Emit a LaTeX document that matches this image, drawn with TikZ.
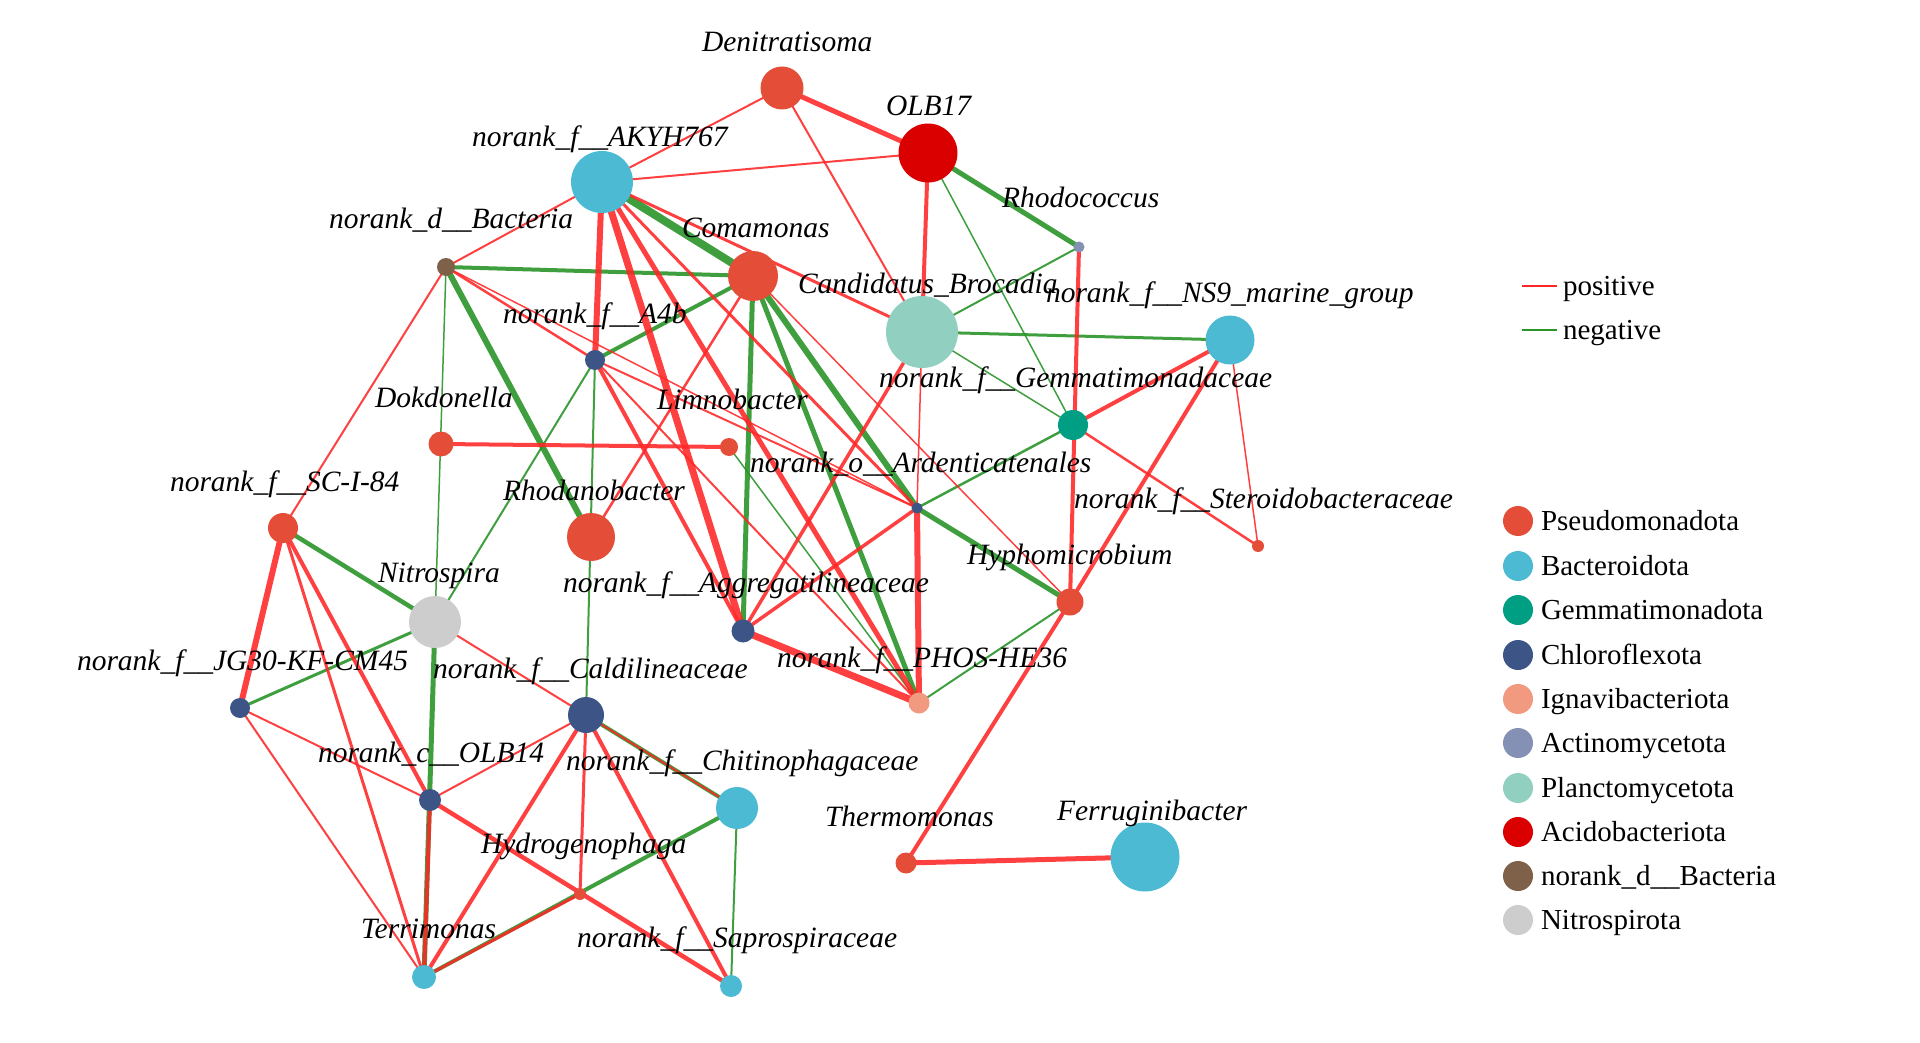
\documentclass[tikz,border=0pt]{standalone}
\usepackage{fontspec}
\setmainfont{Liberation Serif}
\definecolor{pseudo}{HTML}{E44D37}
\definecolor{bacter}{HTML}{4DBAD4}
\definecolor{gemma}{HTML}{009E82}
\definecolor{chloro}{HTML}{3C5486}
\definecolor{igna}{HTML}{F29A80}
\definecolor{actino}{HTML}{8491B4}
\definecolor{plancto}{HTML}{91D0C1}
\definecolor{acido}{HTML}{DA0000}
\definecolor{nbact}{HTML}{7E6148}
\definecolor{nitrocol}{HTML}{CDCDCD}
\definecolor{posred}{HTML}{FF2626}
\definecolor{neggreen}{HTML}{2A952A}
\pgfdeclarelayer{edges}
\pgfsetlayers{edges,main}
\begin{document}
\begin{tikzpicture}[x=1pt,y=-1pt,
  nd/.style={circle,inner sep=0pt,outer sep=0pt,minimum size=#1pt,draw=none},
  lab/.style={anchor=base west,inner sep=0pt,outer sep=0pt,font=\fontsize{29.5}{32}\selectfont\itshape},
  leg/.style={anchor=base west,inner sep=0pt,outer sep=0pt,font=\fontsize{29}{32}\selectfont},
  posE/.style={draw=posred,line width=#1pt,draw opacity=0.88},
  negE/.style={draw=neggreen,line width=#1pt,draw opacity=0.9}]
\useasboundingbox (0,0) rectangle (1920,1043);
% nodes
\node[nd=43,fill=pseudo] (denit) at (782,88) {};
\node[nd=59,fill=acido] (olb17) at (928,153) {};
\node[nd=62,fill=bacter] (akyh) at (602,182) {};
\node[nd=18,fill=nbact] (bact) at (446,267) {};
\node[nd=50,fill=pseudo] (comam) at (753,276) {};
\node[nd=11,fill=actino] (rhodoc) at (1079,247) {};
\node[nd=72,fill=plancto] (broc) at (922,332) {};
\node[nd=49,fill=bacter] (ns9) at (1230,340) {};
\node[nd=20,fill=chloro] (a4b) at (595,360) {};
\node[nd=25,fill=pseudo] (dokd) at (441,444) {};
\node[nd=18,fill=pseudo] (limno) at (729,447) {};
\node[nd=30,fill=gemma] (gemmn) at (1073,425) {};
\node[nd=11,fill=chloro] (arden) at (917,508) {};
\node[nd=12,fill=pseudo] (stero) at (1258,546) {};
\node[nd=30,fill=pseudo] (sci) at (283,528) {};
\node[nd=48,fill=pseudo] (rhodano) at (591,537) {};
\node[nd=27,fill=pseudo] (hypho) at (1070,602) {};
\node[nd=52,fill=nitrocol] (nitro) at (435,622) {};
\node[nd=23,fill=chloro] (aggreg) at (743,631) {};
\node[nd=20,fill=chloro] (jg30) at (240,708) {};
\node[nd=36,fill=chloro] (caldi) at (586,715) {};
\node[nd=21,fill=igna] (phos) at (919,703) {};
\node[nd=22,fill=chloro] (olb14) at (430,800) {};
\node[nd=42,fill=bacter] (chitino) at (737,808) {};
\node[nd=12,fill=pseudo] (hydro) at (580,894) {};
\node[nd=24,fill=bacter] (terri) at (424,977) {};
\node[nd=22,fill=bacter] (sapro) at (731,986) {};
\node[nd=21,fill=pseudo] (thermo) at (906,863) {};
\node[nd=69,fill=bacter] (ferrug) at (1145,857) {};
% edges
\begin{pgfonlayer}{edges}
% negative
\draw[negE=5] (olb17.center) -- (rhodoc.center);
\draw[negE=1.5] (olb17.center) -- (gemmn.center);
\draw[negE=8] (akyh.center) -- (comam.center);
\draw[negE=4] (bact.center) -- (comam.center);
\draw[negE=6] (bact.center) -- (rhodano.center);
\draw[negE=1.5] (bact.center) -- (nitro.center);
\draw[negE=4] (comam.center) -- (a4b.center);
\draw[negE=5] (comam.center) -- (aggreg.center);
\draw[negE=5] (comam.center) -- (phos.center);
\draw[negE=6] (comam.center) -- (arden.center);
\draw[negE=2] (rhodoc.center) -- (broc.center);
\draw[negE=3] (broc.center) -- (ns9.center);
\draw[negE=1.5] (broc.center) -- (gemmn.center);
\draw[negE=2.5] (gemmn.center) -- (arden.center);
\draw[negE=5] (arden.center) -- (hypho.center);
\draw[negE=2] (hypho.center) -- (phos.center);
\draw[negE=2] (a4b.center) -- (nitro.center);
\draw[negE=2] (a4b.center) -- (caldi.center);
\draw[negE=1.5] (limno.center) -- (phos.center);
\draw[negE=4.5] (sci.center) -- (nitro.center);
\draw[negE=3] (jg30.center) -- (nitro.center);
\draw[negE=5] (nitro.center) -- (terri.center);
\draw[negE=4] (caldi.center) -- (chitino.center);
\draw[negE=4] (terri.center) -- (chitino.center);
\draw[negE=2] (chitino.center) -- (sapro.center);
% positive
\draw[posE=5] (denit.center) -- (olb17.center);
\draw[posE=2] (denit.center) -- (akyh.center);
\draw[posE=2] (denit.center) -- (broc.center);
\draw[posE=2] (olb17.center) -- (akyh.center);
\draw[posE=4] (olb17.center) -- (broc.center);
\draw[posE=2] (akyh.center) -- (bact.center);
\draw[posE=6] (akyh.center) -- (a4b.center);
\draw[posE=3] (akyh.center) -- (broc.center);
\draw[posE=7] (akyh.center) -- (aggreg.center);
\draw[posE=5] (akyh.center) -- (phos.center);
\draw[posE=3] (akyh.center) -- (arden.center);
\draw[posE=2.5] (bact.center) -- (a4b.center);
\draw[posE=1.5] (bact.center) -- (arden.center);
\draw[posE=2] (bact.center) -- (sci.center);
\draw[posE=2.5] (comam.center) -- (rhodano.center);
\draw[posE=1.5] (comam.center) -- (hypho.center);
\draw[posE=3.5] (broc.center) -- (aggreg.center);
\draw[posE=1.5] (broc.center) -- (arden.center);
\draw[posE=4] (rhodoc.center) -- (hypho.center);
\draw[posE=4] (ns9.center) -- (gemmn.center);
\draw[posE=4] (ns9.center) -- (hypho.center);
\draw[posE=1.5] (ns9.center) -- (stero.center);
\draw[posE=2.5] (gemmn.center) -- (stero.center);
\draw[posE=4] (a4b.center) -- (aggreg.center);
\draw[posE=2] (a4b.center) -- (phos.center);
\draw[posE=2] (a4b.center) -- (arden.center);
\draw[posE=4] (dokd.center) -- (limno.center);
\draw[posE=3.5] (aggreg.center) -- (arden.center);
\draw[posE=7] (aggreg.center) -- (phos.center);
\draw[posE=6] (arden.center) -- (phos.center);
\draw[posE=4] (hypho.center) -- (thermo.center);
\draw[posE=5] (thermo.center) -- (ferrug.center);
\draw[posE=6] (sci.center) -- (jg30.center);
\draw[posE=3] (sci.center) -- (terri.center);
\draw[posE=4] (sci.center) -- (olb14.center);
\draw[posE=2] (nitro.center) -- (chitino.center);
\draw[posE=2] (jg30.center) -- (olb14.center);
\draw[posE=2] (jg30.center) -- (terri.center);
\draw[posE=2] (olb14.center) -- (caldi.center);
\draw[posE=4.5] (olb14.center) -- (sapro.center);
\draw[posE=4] (olb14.center) -- (terri.center);
\draw[posE=4] (caldi.center) -- (terri.center);
\draw[posE=3] (caldi.center) -- (hydro.center);
\draw[posE=4] (caldi.center) -- (sapro.center);
\draw[posE=3] (terri.center) -- (hydro.center);
\end{pgfonlayer}
% labels
\node[lab] (l-denit) at (702,52) {Denitratisoma};
\node[lab] (l-olb17) at (886,116) {OLB17};
\node[lab] (l-akyh) at (472,147) {norank\_f\_\_AKYH767};
\node[lab] (l-bact) at (329,229) {norank\_d\_\_Bacteria};
\node[lab] (l-comam) at (682,238) {Comamonas};
\node[lab] (l-rhodoc) at (1002,208) {Rhodococcus};
\node[lab] (l-broc) at (798,293) {Candidatus\_Brocadia};
\node[lab] (l-ns9) at (1046,302) {norank\_f\_\_NS9\_marine\_group};
\node[lab] (l-a4b) at (503,323) {norank\_f\_\_A4b};
\node[lab] (l-dokd) at (375,407) {Dokdonella};
\node[lab] (l-limno) at (657,409) {Limnobacter};
\node[lab] (l-gemmn) at (879,387) {norank\_f\_\_Gemmatimonadaceae};
\node[lab] (l-arden) at (750,472) {norank\_o\_\_Ardenticatenales};
\node[lab] (l-stero) at (1074,508) {norank\_f\_\_Steroidobacteraceae};
\node[lab] (l-sci) at (170,491) {norank\_f\_\_SC-I-84};
\node[lab] (l-rhodano) at (503,500) {Rhodanobacter};
\node[lab] (l-hypho) at (967,564) {Hyphomicrobium};
\node[lab] (l-nitro) at (378,582) {Nitrospira};
\node[lab] (l-aggreg) at (563,592) {norank\_f\_\_Aggregatilineaceae};
\node[lab] (l-jg30) at (77,670) {norank\_f\_\_JG30-KF-CM45};
\node[lab] (l-caldi) at (433,678) {norank\_f\_\_Caldilineaceae};
\node[lab] (l-phos) at (777,667) {norank\_f\_\_PHOS-HE36};
\node[lab] (l-olb14) at (318,762) {norank\_c\_\_OLB14};
\node[lab] (l-chitino) at (566,770) {norank\_f\_\_Chitinophagaceae};
\node[lab] (l-hydro) at (481,853) {Hydrogenophaga};
\node[lab] (l-terri) at (361,938) {Terrimonas};
\node[lab] (l-sapro) at (577,947) {norank\_f\_\_Saprospiraceae};
\node[lab] (l-thermo) at (825,826) {Thermomonas};
\node[lab] (l-ferrug) at (1057,820) {Ferruginibacter};
% legend
\draw[posred,line width=2pt] (1522,286) -- (1557,286);
\node[leg] (lg-pos) at (1563,295) {positive};
\draw[neggreen,line width=2pt] (1522,330) -- (1557,330);
\node[leg] (lg-neg) at (1563,339) {negative};
\foreach \y/\c/\t [count=\i] in {521/pseudo/Pseudomonadota,566/bacter/Bacteroidota,610/gemma/Gemmatimonadota,655/chloro/Chloroflexota,699/igna/Ignavibacteriota,743/actino/Actinomycetota,788/plancto/Planctomycetota,832/acido/Acidobacteriota,876/nbact/norank\_d\_\_Bacteria,920/nitrocol/Nitrospirota}{
  \node[nd=30,fill=\c] (lgc\i) at (1518,\y) {};
  \node[leg] (lgt\i) at (1541,\y+9.5) {\t};
}
\end{tikzpicture}
\end{document}
